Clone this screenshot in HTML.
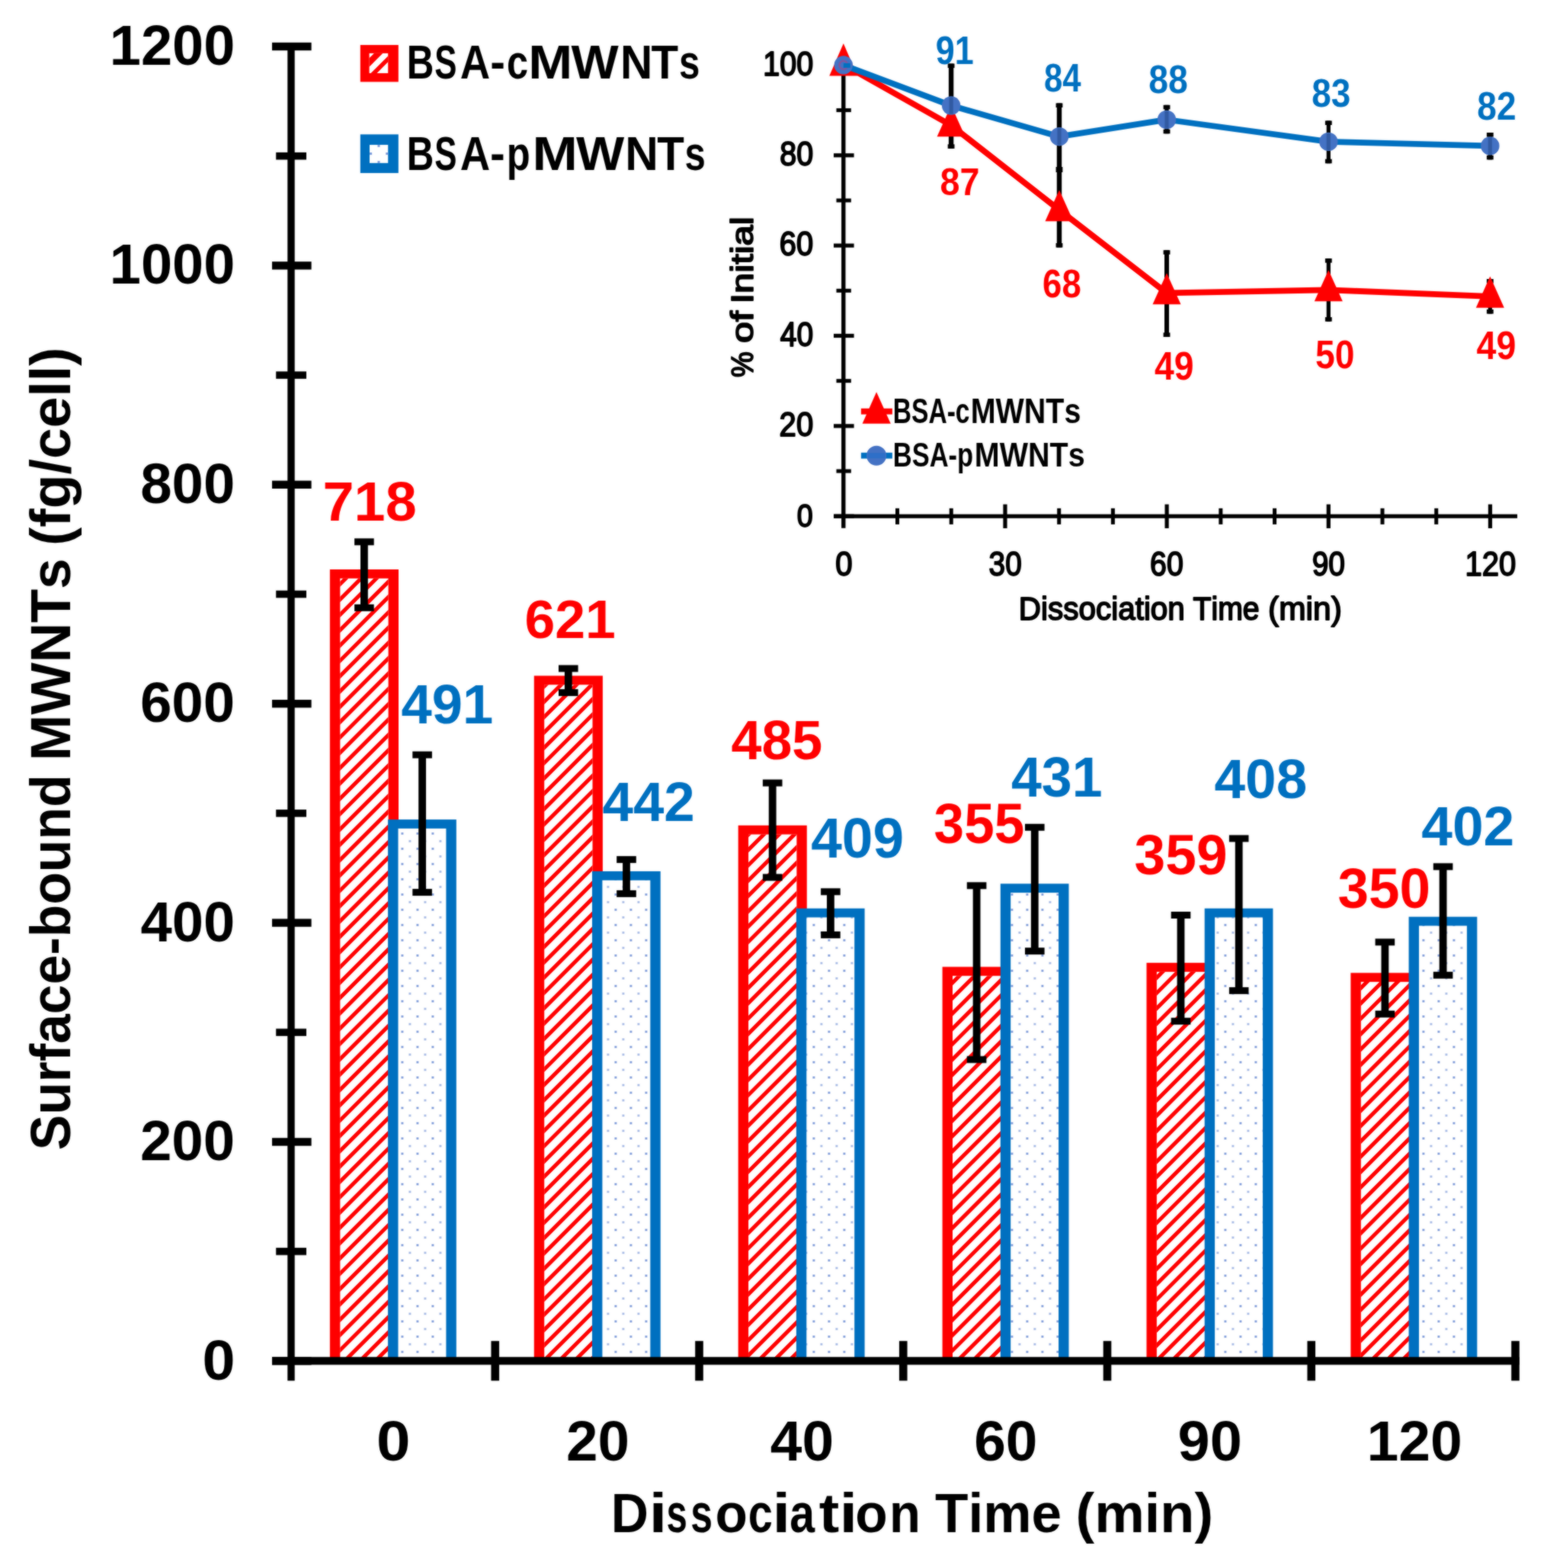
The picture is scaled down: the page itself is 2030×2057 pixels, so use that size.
<!DOCTYPE html>
<html lang="en">
<head>
<meta charset="utf-8">
<title>Surface-bound MWNTs vs Dissociation Time</title>
<style>
html,body{margin:0;padding:0;background:#fff;}
body{width:2030px;height:2057px;overflow:hidden;}
svg{display:block;}
#soft{filter:blur(0.8px);opacity:0.55;}
text{font-family:"Liberation Sans",sans-serif;font-size:100px;font-kerning:none;}
text.b{font-weight:bold;}
text.r{font-weight:normal;stroke-width:4.4px;stroke-linejoin:round;}
</style>
</head>
<body>
<svg width="2030" height="2057" viewBox="0 0 2030 2057">
<defs>
<pattern id="dots" patternUnits="userSpaceOnUse" width="20" height="20" x="525.4" y="1091.0">
<rect width="20" height="20" fill="#fff"/>
<rect x="1.1" y="1.1" width="2.8" height="2.8" fill="#5B7FD0" opacity="0.8"/>
<rect x="11.1" y="11.1" width="2.8" height="2.8" fill="#5B7FD0" opacity="0.55"/>
</pattern>
<clipPath id="c0"><rect x="446.30" y="758.80" width="63.30" height="1022.20"/></clipPath><clipPath id="c1"><rect x="714.20" y="898.30" width="63.30" height="882.70"/></clipPath><clipPath id="c2"><rect x="982.10" y="1094.60" width="63.30" height="686.40"/></clipPath><clipPath id="c3"><rect x="1250.00" y="1280.20" width="63.30" height="500.80"/></clipPath><clipPath id="c4"><rect x="1517.90" y="1274.90" width="63.30" height="506.10"/></clipPath><clipPath id="c5"><rect x="1785.80" y="1288.10" width="63.30" height="492.90"/></clipPath>
</defs>
<g id="chart">
<rect width="2030" height="2057" fill="#fff"/>
<rect x="432.90" y="747.00" width="90.10" height="1034.00" fill="#FF0000" />
<rect x="446.30" y="758.80" width="63.30" height="1022.20" fill="#fff" />
<rect x="700.80" y="886.50" width="90.10" height="894.50" fill="#FF0000" />
<rect x="714.20" y="898.30" width="63.30" height="882.70" fill="#fff" />
<rect x="968.70" y="1082.80" width="90.10" height="698.20" fill="#FF0000" />
<rect x="982.10" y="1094.60" width="63.30" height="686.40" fill="#fff" />
<rect x="1236.60" y="1268.40" width="90.10" height="512.60" fill="#FF0000" />
<rect x="1250.00" y="1280.20" width="63.30" height="500.80" fill="#fff" />
<rect x="1504.50" y="1263.10" width="90.10" height="517.90" fill="#FF0000" />
<rect x="1517.90" y="1274.90" width="63.30" height="506.10" fill="#fff" />
<rect x="1772.40" y="1276.30" width="90.10" height="504.70" fill="#FF0000" />
<rect x="1785.80" y="1288.10" width="63.30" height="492.90" fill="#fff" />
<path clip-path="url(#c0)" d="M440.3,711.9L515.6,636.6M440.3,732.0L515.6,656.7M440.3,752.1L515.6,676.8M440.3,772.2L515.6,696.9M440.3,792.3L515.6,717.0M440.3,812.4L515.6,737.1M440.3,832.5L515.6,757.2M440.3,852.6L515.6,777.3M440.3,872.7L515.6,797.4M440.3,892.8L515.6,817.5M440.3,912.9L515.6,837.6M440.3,933.0L515.6,857.7M440.3,953.1L515.6,877.8M440.3,973.2L515.6,897.9M440.3,993.3L515.6,918.0M440.3,1013.4L515.6,938.1M440.3,1033.5L515.6,958.2M440.3,1053.6L515.6,978.3M440.3,1073.7L515.6,998.4M440.3,1093.8L515.6,1018.5M440.3,1113.9L515.6,1038.6M440.3,1134.0L515.6,1058.7M440.3,1154.1L515.6,1078.8M440.3,1174.2L515.6,1098.9M440.3,1194.3L515.6,1119.0M440.3,1214.4L515.6,1139.1M440.3,1234.5L515.6,1159.2M440.3,1254.6L515.6,1179.3M440.3,1274.7L515.6,1199.4M440.3,1294.8L515.6,1219.5M440.3,1314.9L515.6,1239.6M440.3,1335.0L515.6,1259.7M440.3,1355.1L515.6,1279.8M440.3,1375.2L515.6,1299.9M440.3,1395.3L515.6,1320.0M440.3,1415.4L515.6,1340.1M440.3,1435.5L515.6,1360.2M440.3,1455.6L515.6,1380.3M440.3,1475.7L515.6,1400.4M440.3,1495.8L515.6,1420.5M440.3,1515.9L515.6,1440.6M440.3,1536.0L515.6,1460.7M440.3,1556.1L515.6,1480.8M440.3,1576.2L515.6,1500.9M440.3,1596.3L515.6,1521.0M440.3,1616.4L515.6,1541.1M440.3,1636.5L515.6,1561.2M440.3,1656.6L515.6,1581.3M440.3,1676.7L515.6,1601.4M440.3,1696.8L515.6,1621.5M440.3,1716.9L515.6,1641.6M440.3,1737.0L515.6,1661.7M440.3,1757.1L515.6,1681.8M440.3,1777.2L515.6,1701.9M440.3,1797.3L515.6,1722.0M440.3,1817.4L515.6,1742.1M440.3,1837.5L515.6,1762.2M440.3,1857.6L515.6,1782.3M440.3,1877.7L515.6,1802.4M440.3,1897.8L515.6,1822.5" stroke="#FF0000" stroke-width="5.1" fill="none"/>
<path clip-path="url(#c1)" d="M708.2,866.1L783.5,790.8M708.2,886.2L783.5,810.9M708.2,906.3L783.5,831.0M708.2,926.4L783.5,851.1M708.2,946.5L783.5,871.2M708.2,966.6L783.5,891.3M708.2,986.7L783.5,911.4M708.2,1006.8L783.5,931.5M708.2,1026.9L783.5,951.6M708.2,1047.0L783.5,971.7M708.2,1067.1L783.5,991.8M708.2,1087.2L783.5,1011.9M708.2,1107.3L783.5,1032.0M708.2,1127.4L783.5,1052.1M708.2,1147.5L783.5,1072.2M708.2,1167.6L783.5,1092.3M708.2,1187.7L783.5,1112.4M708.2,1207.8L783.5,1132.5M708.2,1227.9L783.5,1152.6M708.2,1248.0L783.5,1172.7M708.2,1268.1L783.5,1192.8M708.2,1288.2L783.5,1212.9M708.2,1308.3L783.5,1233.0M708.2,1328.4L783.5,1253.1M708.2,1348.5L783.5,1273.2M708.2,1368.6L783.5,1293.3M708.2,1388.7L783.5,1313.4M708.2,1408.8L783.5,1333.5M708.2,1428.9L783.5,1353.6M708.2,1449.0L783.5,1373.7M708.2,1469.1L783.5,1393.8M708.2,1489.2L783.5,1413.9M708.2,1509.3L783.5,1434.0M708.2,1529.4L783.5,1454.1M708.2,1549.5L783.5,1474.2M708.2,1569.6L783.5,1494.3M708.2,1589.7L783.5,1514.4M708.2,1609.8L783.5,1534.5M708.2,1629.9L783.5,1554.6M708.2,1650.0L783.5,1574.7M708.2,1670.1L783.5,1594.8M708.2,1690.2L783.5,1614.9M708.2,1710.3L783.5,1635.0M708.2,1730.4L783.5,1655.1M708.2,1750.5L783.5,1675.2M708.2,1770.6L783.5,1695.3M708.2,1790.7L783.5,1715.4M708.2,1810.8L783.5,1735.5M708.2,1830.9L783.5,1755.6M708.2,1851.0L783.5,1775.7M708.2,1871.1L783.5,1795.8M708.2,1891.2L783.5,1815.9" stroke="#FF0000" stroke-width="5.1" fill="none"/>
<path clip-path="url(#c2)" d="M976.1,1060.5L1051.4,985.2M976.1,1080.6L1051.4,1005.3M976.1,1100.7L1051.4,1025.4M976.1,1120.8L1051.4,1045.5M976.1,1140.9L1051.4,1065.6M976.1,1161.0L1051.4,1085.7M976.1,1181.1L1051.4,1105.8M976.1,1201.2L1051.4,1125.9M976.1,1221.3L1051.4,1146.0M976.1,1241.4L1051.4,1166.1M976.1,1261.5L1051.4,1186.2M976.1,1281.6L1051.4,1206.3M976.1,1301.7L1051.4,1226.4M976.1,1321.8L1051.4,1246.5M976.1,1341.9L1051.4,1266.6M976.1,1362.0L1051.4,1286.7M976.1,1382.1L1051.4,1306.8M976.1,1402.2L1051.4,1326.9M976.1,1422.3L1051.4,1347.0M976.1,1442.4L1051.4,1367.1M976.1,1462.5L1051.4,1387.2M976.1,1482.6L1051.4,1407.3M976.1,1502.7L1051.4,1427.4M976.1,1522.8L1051.4,1447.5M976.1,1542.9L1051.4,1467.6M976.1,1563.0L1051.4,1487.7M976.1,1583.1L1051.4,1507.8M976.1,1603.2L1051.4,1527.9M976.1,1623.3L1051.4,1548.0M976.1,1643.4L1051.4,1568.1M976.1,1663.5L1051.4,1588.2M976.1,1683.6L1051.4,1608.3M976.1,1703.7L1051.4,1628.4M976.1,1723.8L1051.4,1648.5M976.1,1743.9L1051.4,1668.6M976.1,1764.0L1051.4,1688.7M976.1,1784.1L1051.4,1708.8M976.1,1804.2L1051.4,1728.9M976.1,1824.3L1051.4,1749.0M976.1,1844.4L1051.4,1769.1M976.1,1864.5L1051.4,1789.2M976.1,1884.6L1051.4,1809.3M976.1,1904.7L1051.4,1829.4" stroke="#FF0000" stroke-width="5.1" fill="none"/>
<path clip-path="url(#c3)" d="M1244.0,1234.8L1319.3,1159.5M1244.0,1254.9L1319.3,1179.6M1244.0,1275.0L1319.3,1199.7M1244.0,1295.1L1319.3,1219.8M1244.0,1315.2L1319.3,1239.9M1244.0,1335.3L1319.3,1260.0M1244.0,1355.4L1319.3,1280.1M1244.0,1375.5L1319.3,1300.2M1244.0,1395.6L1319.3,1320.3M1244.0,1415.7L1319.3,1340.4M1244.0,1435.8L1319.3,1360.5M1244.0,1455.9L1319.3,1380.6M1244.0,1476.0L1319.3,1400.7M1244.0,1496.1L1319.3,1420.8M1244.0,1516.2L1319.3,1440.9M1244.0,1536.3L1319.3,1461.0M1244.0,1556.4L1319.3,1481.1M1244.0,1576.5L1319.3,1501.2M1244.0,1596.6L1319.3,1521.3M1244.0,1616.7L1319.3,1541.4M1244.0,1636.8L1319.3,1561.5M1244.0,1656.9L1319.3,1581.6M1244.0,1677.0L1319.3,1601.7M1244.0,1697.1L1319.3,1621.8M1244.0,1717.2L1319.3,1641.9M1244.0,1737.3L1319.3,1662.0M1244.0,1757.4L1319.3,1682.1M1244.0,1777.5L1319.3,1702.2M1244.0,1797.6L1319.3,1722.3M1244.0,1817.7L1319.3,1742.4M1244.0,1837.8L1319.3,1762.5M1244.0,1857.9L1319.3,1782.6M1244.0,1878.0L1319.3,1802.7M1244.0,1898.1L1319.3,1822.8" stroke="#FF0000" stroke-width="5.1" fill="none"/>
<path clip-path="url(#c4)" d="M1511.9,1228.2L1587.2,1152.9M1511.9,1248.3L1587.2,1173.0M1511.9,1268.4L1587.2,1193.1M1511.9,1288.5L1587.2,1213.2M1511.9,1308.6L1587.2,1233.3M1511.9,1328.7L1587.2,1253.4M1511.9,1348.8L1587.2,1273.5M1511.9,1368.9L1587.2,1293.6M1511.9,1389.0L1587.2,1313.7M1511.9,1409.1L1587.2,1333.8M1511.9,1429.2L1587.2,1353.9M1511.9,1449.3L1587.2,1374.0M1511.9,1469.4L1587.2,1394.1M1511.9,1489.5L1587.2,1414.2M1511.9,1509.6L1587.2,1434.3M1511.9,1529.7L1587.2,1454.4M1511.9,1549.8L1587.2,1474.5M1511.9,1569.9L1587.2,1494.6M1511.9,1590.0L1587.2,1514.7M1511.9,1610.1L1587.2,1534.8M1511.9,1630.2L1587.2,1554.9M1511.9,1650.3L1587.2,1575.0M1511.9,1670.4L1587.2,1595.1M1511.9,1690.5L1587.2,1615.2M1511.9,1710.6L1587.2,1635.3M1511.9,1730.7L1587.2,1655.4M1511.9,1750.8L1587.2,1675.5M1511.9,1770.9L1587.2,1695.6M1511.9,1791.0L1587.2,1715.7M1511.9,1811.1L1587.2,1735.8M1511.9,1831.2L1587.2,1755.9M1511.9,1851.3L1587.2,1776.0M1511.9,1871.4L1587.2,1796.1M1511.9,1891.5L1587.2,1816.2" stroke="#FF0000" stroke-width="5.1" fill="none"/>
<path clip-path="url(#c5)" d="M1779.8,1241.7L1855.1,1166.4M1779.8,1261.8L1855.1,1186.5M1779.8,1281.9L1855.1,1206.6M1779.8,1302.0L1855.1,1226.7M1779.8,1322.1L1855.1,1246.8M1779.8,1342.2L1855.1,1266.9M1779.8,1362.3L1855.1,1287.0M1779.8,1382.4L1855.1,1307.1M1779.8,1402.5L1855.1,1327.2M1779.8,1422.6L1855.1,1347.3M1779.8,1442.7L1855.1,1367.4M1779.8,1462.8L1855.1,1387.5M1779.8,1482.9L1855.1,1407.6M1779.8,1503.0L1855.1,1427.7M1779.8,1523.1L1855.1,1447.8M1779.8,1543.2L1855.1,1467.9M1779.8,1563.3L1855.1,1488.0M1779.8,1583.4L1855.1,1508.1M1779.8,1603.5L1855.1,1528.2M1779.8,1623.6L1855.1,1548.3M1779.8,1643.7L1855.1,1568.4M1779.8,1663.8L1855.1,1588.5M1779.8,1683.9L1855.1,1608.6M1779.8,1704.0L1855.1,1628.7M1779.8,1724.1L1855.1,1648.8M1779.8,1744.2L1855.1,1668.9M1779.8,1764.3L1855.1,1689.0M1779.8,1784.4L1855.1,1709.1M1779.8,1804.5L1855.1,1729.2M1779.8,1824.6L1855.1,1749.3M1779.8,1844.7L1855.1,1769.4M1779.8,1864.8L1855.1,1789.5M1779.8,1884.9L1855.1,1809.6M1779.8,1905.0L1855.1,1829.7" stroke="#FF0000" stroke-width="5.1" fill="none"/>
<rect x="509.10" y="1075.10" width="89.70" height="705.90" fill="#0070C0" />
<rect x="522.50" y="1086.90" width="62.90" height="694.10" fill="url(#dots)" />
<rect x="777.00" y="1143.00" width="89.70" height="638.00" fill="#0070C0" />
<rect x="790.40" y="1154.80" width="62.90" height="626.20" fill="url(#dots)" />
<rect x="1044.90" y="1191.70" width="89.70" height="589.30" fill="#0070C0" />
<rect x="1058.30" y="1203.50" width="62.90" height="577.50" fill="url(#dots)" />
<rect x="1312.80" y="1159.30" width="89.70" height="621.70" fill="#0070C0" />
<rect x="1326.20" y="1171.10" width="62.90" height="609.90" fill="url(#dots)" />
<rect x="1580.70" y="1191.70" width="89.70" height="589.30" fill="#0070C0" />
<rect x="1594.10" y="1203.50" width="62.90" height="577.50" fill="url(#dots)" />
<rect x="1848.60" y="1202.70" width="89.70" height="578.30" fill="#0070C0" />
<rect x="1862.00" y="1214.50" width="62.90" height="566.50" fill="url(#dots)" />
<rect x="473.00" y="710.80" width="9.80" height="86.50" fill="#000000" />
<rect x="465.10" y="706.30" width="25.60" height="9.00" fill="#000000" />
<rect x="465.10" y="792.80" width="25.60" height="9.00" fill="#000000" />
<rect x="549.20" y="990.20" width="9.80" height="180.40" fill="#000000" />
<rect x="541.30" y="985.70" width="25.60" height="9.00" fill="#000000" />
<rect x="541.30" y="1166.10" width="25.60" height="9.00" fill="#000000" />
<rect x="740.90" y="877.00" width="9.80" height="31.60" fill="#000000" />
<rect x="733.00" y="872.50" width="25.60" height="9.00" fill="#000000" />
<rect x="733.00" y="904.10" width="25.60" height="9.00" fill="#000000" />
<rect x="817.10" y="1127.60" width="9.80" height="44.80" fill="#000000" />
<rect x="809.20" y="1123.10" width="25.60" height="9.00" fill="#000000" />
<rect x="809.20" y="1167.90" width="25.60" height="9.00" fill="#000000" />
<rect x="1008.80" y="1027.10" width="9.80" height="123.90" fill="#000000" />
<rect x="1000.90" y="1022.60" width="25.60" height="9.00" fill="#000000" />
<rect x="1000.90" y="1146.50" width="25.60" height="9.00" fill="#000000" />
<rect x="1085.00" y="1169.80" width="9.80" height="56.60" fill="#000000" />
<rect x="1077.10" y="1165.30" width="25.60" height="9.00" fill="#000000" />
<rect x="1077.10" y="1221.90" width="25.60" height="9.00" fill="#000000" />
<rect x="1276.70" y="1161.80" width="9.80" height="228.20" fill="#000000" />
<rect x="1268.80" y="1157.30" width="25.60" height="9.00" fill="#000000" />
<rect x="1268.80" y="1385.50" width="25.60" height="9.00" fill="#000000" />
<rect x="1352.90" y="1085.30" width="9.80" height="162.40" fill="#000000" />
<rect x="1345.00" y="1080.80" width="25.60" height="9.00" fill="#000000" />
<rect x="1345.00" y="1243.20" width="25.60" height="9.00" fill="#000000" />
<rect x="1544.60" y="1200.50" width="9.80" height="139.20" fill="#000000" />
<rect x="1536.70" y="1196.00" width="25.60" height="9.00" fill="#000000" />
<rect x="1536.70" y="1335.20" width="25.60" height="9.00" fill="#000000" />
<rect x="1620.80" y="1100.00" width="9.80" height="199.60" fill="#000000" />
<rect x="1612.90" y="1095.50" width="25.60" height="9.00" fill="#000000" />
<rect x="1612.90" y="1295.10" width="25.60" height="9.00" fill="#000000" />
<rect x="1812.50" y="1235.90" width="9.80" height="94.40" fill="#000000" />
<rect x="1804.60" y="1231.40" width="25.60" height="9.00" fill="#000000" />
<rect x="1804.60" y="1325.80" width="25.60" height="9.00" fill="#000000" />
<rect x="1888.70" y="1136.90" width="9.80" height="142.40" fill="#000000" />
<rect x="1880.80" y="1132.40" width="25.60" height="9.00" fill="#000000" />
<rect x="1880.80" y="1274.80" width="25.60" height="9.00" fill="#000000" />
<rect x="377.30" y="56.00" width="9.40" height="1755.30" fill="#000000" />
<rect x="357.00" y="1780.20" width="51.60" height="10.40" fill="#000000" />
<rect x="362.20" y="1636.90" width="39.80" height="9.60" fill="#000000" />
<rect x="357.00" y="1492.80" width="51.60" height="10.40" fill="#000000" />
<rect x="362.20" y="1349.50" width="39.80" height="9.60" fill="#000000" />
<rect x="357.00" y="1205.40" width="51.60" height="10.40" fill="#000000" />
<rect x="362.20" y="1062.10" width="39.80" height="9.60" fill="#000000" />
<rect x="357.00" y="918.00" width="51.60" height="10.40" fill="#000000" />
<rect x="362.20" y="774.70" width="39.80" height="9.60" fill="#000000" />
<rect x="357.00" y="630.60" width="51.60" height="10.40" fill="#000000" />
<rect x="362.20" y="487.30" width="39.80" height="9.60" fill="#000000" />
<rect x="357.00" y="343.20" width="51.60" height="10.40" fill="#000000" />
<rect x="362.20" y="199.90" width="39.80" height="9.60" fill="#000000" />
<rect x="357.00" y="55.80" width="51.60" height="10.40" fill="#000000" />
<rect x="357.00" y="1780.20" width="1636.80" height="10.20" fill="#000000" />
<rect x="644.45" y="1759.20" width="10.60" height="52.10" fill="#000000" />
<rect x="912.20" y="1759.20" width="10.60" height="52.10" fill="#000000" />
<rect x="1179.95" y="1759.20" width="10.60" height="52.10" fill="#000000" />
<rect x="1447.70" y="1759.20" width="10.60" height="52.10" fill="#000000" />
<rect x="1715.45" y="1759.20" width="10.60" height="52.10" fill="#000000" />
<rect x="1983.20" y="1759.20" width="10.60" height="52.10" fill="#000000" />
<text class="b" fill="#000000" transform="translate(143.79,84.96) scale(0.7396,0.7408)">1200</text>
<text class="b" fill="#000000" transform="translate(143.79,372.36) scale(0.7396,0.7408)">1000</text>
<text class="b" fill="#000000" transform="translate(184.27,659.76) scale(0.7431,0.7408)">800</text>
<text class="b" fill="#000000" transform="translate(183.89,947.16) scale(0.7455,0.7408)">600</text>
<text class="b" fill="#000000" transform="translate(184.49,1234.56) scale(0.7418,0.7408)">400</text>
<text class="b" fill="#000000" transform="translate(183.89,1521.96) scale(0.7455,0.7408)">200</text>
<text class="b" fill="#000000" transform="translate(265.50,1810.26) scale(0.7747,0.7408)">0</text>
<text class="b" fill="#000000" transform="translate(494.10,1915.85) scale(0.8000,0.7465)">0</text>
<text class="b" fill="#000000" transform="translate(742.99,1915.85) scale(0.7459,0.7465)">20</text>
<text class="b" fill="#000000" transform="translate(1010.78,1915.85) scale(0.7488,0.7465)">40</text>
<text class="b" fill="#000000" transform="translate(1278.28,1915.85) scale(0.7478,0.7465)">60</text>
<text class="b" fill="#000000" transform="translate(1545.55,1915.85) scale(0.7575,0.7465)">90</text>
<text class="b" fill="#000000" transform="translate(1793.42,1915.85) scale(0.7508,0.7465)">120</text>
<text class="b" fill="#000000" aria-label="Dissociation Time (min)" transform="translate(0,2009.80) scale(1,0.7319)"><tspan x="801.77" textLength="49.20" lengthAdjust="spacingAndGlyphs">D</tspan><tspan x="851.69" textLength="23.47" lengthAdjust="spacingAndGlyphs">i</tspan><tspan x="874.48" textLength="27.35" lengthAdjust="spacingAndGlyphs">s</tspan><tspan x="906.29" textLength="28.74" lengthAdjust="spacingAndGlyphs">s</tspan><tspan x="938.42" textLength="42.41" lengthAdjust="spacingAndGlyphs">o</tspan><tspan x="981.79" textLength="32.11" lengthAdjust="spacingAndGlyphs">c</tspan><tspan x="1013.44" textLength="23.67" lengthAdjust="spacingAndGlyphs">i</tspan><tspan x="1036.33" textLength="32.85" lengthAdjust="spacingAndGlyphs">a</tspan><tspan x="1074.70" textLength="26.54" lengthAdjust="spacingAndGlyphs">t</tspan><tspan x="1101.54" textLength="23.67" lengthAdjust="spacingAndGlyphs">i</tspan><tspan x="1122.32" textLength="42.41" lengthAdjust="spacingAndGlyphs">o</tspan><tspan x="1166.94" textLength="40.93" lengthAdjust="spacingAndGlyphs">n</tspan> <tspan x="1226.89" textLength="166.23" lengthAdjust="spacingAndGlyphs">Time</tspan> <tspan x="1411.61" textLength="180.40" lengthAdjust="spacingAndGlyphs">(min)</tspan></text>
<text class="b" fill="#000000" aria-label="Surface-bound MWNTs (fg/cell)" transform="translate(92.30,0) rotate(-90) scale(1,0.7377)"><tspan x="-1508.89" textLength="492.68" lengthAdjust="spacingAndGlyphs">Surface-bound</tspan> <tspan x="-997.91" textLength="265.37" lengthAdjust="spacingAndGlyphs">MWNTs</tspan> <tspan x="-716.06" textLength="260.58" lengthAdjust="spacingAndGlyphs">(fg/cell)</tspan></text>
<rect x="472.80" y="59.00" width="50.00" height="48.40" fill="#FF0000" />
<clipPath id="cl"><rect x="484.6" y="69.9" width="24.6" height="26.1"/></clipPath>
<rect x="484.6" y="69.9" width="24.6" height="26.1" fill="#fff"/>
<path clip-path="url(#cl)" d="M484.6,102.0L516.6,70.0" stroke="#FF0000" stroke-width="5.6" fill="none"/><path clip-path="url(#cl)" d="M476.5,90.0L506.5,60.0" stroke="#FF0000" stroke-width="8.0" fill="none"/>
<rect x="472.80" y="176.30" width="50.00" height="50.70" fill="#0070C0" />
<rect x="485.00" y="190.00" width="24.20" height="23.90" fill="#fff" />
<rect x="485.10" y="200.10" width="3.00" height="3.00" fill="#7C9BDC" />
<rect x="506.30" y="200.10" width="3.00" height="3.00" fill="#7C9BDC" />
<rect x="495.50" y="189.90" width="3.00" height="3.00" fill="#7C9BDC" />
<rect x="495.50" y="211.10" width="3.00" height="3.00" fill="#7C9BDC" />
<text class="b" fill="#000000" aria-label="BSA-cMWNTs" transform="translate(0,103.20) scale(1,0.6333)"><tspan x="533.69" textLength="35.64" lengthAdjust="spacingAndGlyphs">B</tspan><tspan x="570.18" textLength="29.24" lengthAdjust="spacingAndGlyphs">S</tspan><tspan x="603.83" textLength="39.45" lengthAdjust="spacingAndGlyphs">A</tspan><tspan x="643.13" textLength="19.72" lengthAdjust="spacingAndGlyphs">-</tspan><tspan x="664.88" textLength="28.10" lengthAdjust="spacingAndGlyphs">c</tspan><tspan x="693.18" textLength="57.96" lengthAdjust="spacingAndGlyphs">M</tspan><tspan x="749.40" textLength="62.26" lengthAdjust="spacingAndGlyphs">W</tspan><tspan x="813.90" textLength="42.23" lengthAdjust="spacingAndGlyphs">N</tspan><tspan x="854.62" textLength="35.62" lengthAdjust="spacingAndGlyphs">T</tspan><tspan x="890.88" textLength="27.35" lengthAdjust="spacingAndGlyphs">s</tspan></text>
<text class="b" fill="#000000" aria-label="BSA-pMWNTs" transform="translate(0,222.50) scale(1,0.6348)"><tspan x="533.69" textLength="35.64" lengthAdjust="spacingAndGlyphs">B</tspan><tspan x="570.18" textLength="29.24" lengthAdjust="spacingAndGlyphs">S</tspan><tspan x="603.83" textLength="39.45" lengthAdjust="spacingAndGlyphs">A</tspan><tspan x="643.13" textLength="19.72" lengthAdjust="spacingAndGlyphs">-</tspan><tspan x="664.70" textLength="30.97" lengthAdjust="spacingAndGlyphs">p</tspan><tspan x="698.57" textLength="59.38" lengthAdjust="spacingAndGlyphs">M</tspan><tspan x="756.10" textLength="63.26" lengthAdjust="spacingAndGlyphs">W</tspan><tspan x="820.38" textLength="43.58" lengthAdjust="spacingAndGlyphs">N</tspan><tspan x="862.32" textLength="35.62" lengthAdjust="spacingAndGlyphs">T</tspan><tspan x="898.58" textLength="27.35" lengthAdjust="spacingAndGlyphs">s</tspan></text>
<text class="b" fill="#FF0000" transform="translate(423.58,682.98) scale(0.7379,0.7225)">718</text>
<text class="b" fill="#FF0000" transform="translate(688.39,837.19) scale(0.7159,0.7085)">621</text>
<text class="b" fill="#FF0000" transform="translate(959.42,996.48) scale(0.7188,0.7155)">485</text>
<text class="b" fill="#FF0000" transform="translate(1225.62,1105.66) scale(0.7108,0.7408)">355</text>
<text class="b" fill="#FF0000" transform="translate(1488.57,1146.87) scale(0.7315,0.7324)">359</text>
<text class="b" fill="#FF0000" transform="translate(1755.48,1190.86) scale(0.7290,0.7352)">350</text>
<text class="b" fill="#0070C0" transform="translate(526.51,948.88) scale(0.7243,0.7183)">491</text>
<text class="b" fill="#0070C0" transform="translate(790.51,1076.80) scale(0.7269,0.7314)">442</text>
<text class="b" fill="#0070C0" transform="translate(1064.20,1124.96) scale(0.7307,0.7394)">409</text>
<text class="b" fill="#0070C0" transform="translate(1326.92,1045.27) scale(0.7169,0.7324)">431</text>
<text class="b" fill="#0070C0" transform="translate(1593.51,1046.77) scale(0.7298,0.7310)">408</text>
<text class="b" fill="#0070C0" transform="translate(1865.30,1109.08) scale(0.7307,0.7211)">402</text>
<rect x="1244.90" y="83.50" width="6.40" height="111.40" fill="#000000" />
<rect x="1243.70" y="83.50" width="8.80" height="5.60" fill="#000000" />
<rect x="1243.70" y="189.30" width="8.80" height="5.60" fill="#000000" />
<rect x="1386.80" y="135.40" width="6.40" height="189.20" fill="#000000" />
<rect x="1385.60" y="135.40" width="8.80" height="5.60" fill="#000000" />
<rect x="1385.60" y="319.00" width="8.80" height="5.60" fill="#000000" />
<rect x="1385.60" y="219.00" width="8.80" height="7.00" fill="#000000" />
<rect x="1528.40" y="137.80" width="5.20" height="37.50" fill="#000000" />
<rect x="1526.60" y="137.80" width="8.80" height="5.60" fill="#000000" />
<rect x="1526.60" y="169.70" width="8.80" height="5.60" fill="#000000" />
<rect x="1528.00" y="328.20" width="6.00" height="113.80" fill="#000000" />
<rect x="1526.60" y="328.20" width="8.80" height="5.60" fill="#000000" />
<rect x="1526.60" y="436.40" width="8.80" height="5.60" fill="#000000" />
<rect x="1740.70" y="158.40" width="5.20" height="55.90" fill="#000000" />
<rect x="1738.90" y="158.40" width="8.80" height="5.60" fill="#000000" />
<rect x="1738.90" y="208.70" width="8.80" height="5.60" fill="#000000" />
<rect x="1740.70" y="339.10" width="5.20" height="82.60" fill="#000000" />
<rect x="1738.90" y="339.10" width="8.80" height="5.60" fill="#000000" />
<rect x="1738.90" y="416.10" width="8.80" height="5.60" fill="#000000" />
<rect x="1952.70" y="174.00" width="5.20" height="35.40" fill="#000000" />
<rect x="1950.90" y="174.00" width="8.80" height="5.60" fill="#000000" />
<rect x="1950.90" y="203.80" width="8.80" height="5.60" fill="#000000" />
<rect x="1952.70" y="366.00" width="5.20" height="45.60" fill="#000000" />
<rect x="1950.90" y="366.00" width="8.80" height="5.60" fill="#000000" />
<rect x="1950.90" y="406.00" width="8.80" height="5.60" fill="#000000" />
<rect x="1104.10" y="85.00" width="5.40" height="607.80" fill="#000000" />
<rect x="1094.30" y="674.60" width="896.70" height="5.20" fill="#000000" />
<rect x="1094.00" y="674.60" width="26.60" height="5.20" fill="#000000" />
<rect x="1097.50" y="615.52" width="19.30" height="5.00" fill="#000000" />
<rect x="1094.00" y="556.24" width="26.60" height="5.20" fill="#000000" />
<rect x="1097.50" y="497.16" width="19.30" height="5.00" fill="#000000" />
<rect x="1094.00" y="437.88" width="26.60" height="5.20" fill="#000000" />
<rect x="1097.50" y="378.80" width="19.30" height="5.00" fill="#000000" />
<rect x="1094.00" y="319.52" width="26.60" height="5.20" fill="#000000" />
<rect x="1097.50" y="260.44" width="19.30" height="5.00" fill="#000000" />
<rect x="1094.00" y="201.16" width="26.60" height="5.20" fill="#000000" />
<rect x="1097.50" y="142.08" width="19.30" height="5.00" fill="#000000" />
<rect x="1175.02" y="666.80" width="5.00" height="21.10" fill="#000000" />
<rect x="1245.74" y="666.80" width="5.00" height="21.10" fill="#000000" />
<rect x="1316.36" y="661.60" width="5.20" height="31.40" fill="#000000" />
<rect x="1387.18" y="666.80" width="5.00" height="21.10" fill="#000000" />
<rect x="1457.90" y="666.80" width="5.00" height="21.10" fill="#000000" />
<rect x="1528.52" y="661.60" width="5.20" height="31.40" fill="#000000" />
<rect x="1599.34" y="666.80" width="5.00" height="21.10" fill="#000000" />
<rect x="1670.06" y="666.80" width="5.00" height="21.10" fill="#000000" />
<rect x="1740.68" y="661.60" width="5.20" height="31.40" fill="#000000" />
<rect x="1811.50" y="666.80" width="5.00" height="21.10" fill="#000000" />
<rect x="1882.22" y="666.80" width="5.00" height="21.10" fill="#000000" />
<rect x="1952.84" y="661.60" width="5.20" height="31.40" fill="#000000" />
<polyline fill="none" stroke="#FF0000" stroke-width="7.8" stroke-linejoin="round" points="1106.8,84.6 1248.1,164.4 1390.0,275.4 1531.0,384.4 1743.3,380.4 1955.3,388.8"/>
<polygon points="1106.80,57.00 1125.30,99.50 1088.30,99.50" fill="#FF0000"/>
<polygon points="1248.10,138.20 1266.60,179.30 1229.60,179.30" fill="#FF0000"/>
<polygon points="1390.00,249.20 1408.50,290.30 1371.50,290.30" fill="#FF0000"/>
<polygon points="1531.00,358.20 1549.50,399.30 1512.50,399.30" fill="#FF0000"/>
<polygon points="1743.30,354.20 1761.80,395.30 1724.80,395.30" fill="#FF0000"/>
<polygon points="1955.30,362.60 1973.80,403.70 1936.80,403.70" fill="#FF0000"/>
<polyline fill="none" stroke="#0070C0" stroke-width="7.8" stroke-linejoin="round" points="1106.8,85.4 1248.1,138.5 1390.0,179.2 1531.0,157.0 1743.3,185.9 1955.3,191.4"/>
<circle cx="1106.80" cy="85.40" r="12.2" fill="#4472C4"/>
<circle cx="1106.80" cy="85.40" r="5.5" fill="none" stroke="#B04080" stroke-width="2.2" opacity="0.6"/>
<rect x="1106.80" y="82.90" width="9" height="6" fill="#0070C0"/>
<circle cx="1248.10" cy="138.50" r="12.2" fill="#4472C4"/>
<rect x="1245.50" y="127.50" width="5.2" height="22" fill="#1B3F7A" opacity="0.45"/>
<circle cx="1390.00" cy="179.20" r="12.2" fill="#4472C4"/>
<rect x="1387.40" y="168.20" width="5.2" height="22" fill="#1B3F7A" opacity="0.45"/>
<circle cx="1531.00" cy="157.00" r="12.2" fill="#4472C4"/>
<rect x="1528.40" y="146.00" width="5.2" height="22" fill="#1B3F7A" opacity="0.45"/>
<circle cx="1743.30" cy="185.90" r="12.2" fill="#4472C4"/>
<rect x="1740.70" y="174.90" width="5.2" height="22" fill="#1B3F7A" opacity="0.45"/>
<circle cx="1955.30" cy="191.40" r="12.2" fill="#4472C4"/>
<rect x="1952.70" y="180.40" width="5.2" height="22" fill="#1B3F7A" opacity="0.45"/>
<text class="r" fill="#000000" stroke="#000000" transform="translate(1001.22,98.70) scale(0.3956,0.4347)">100</text>
<text class="r" fill="#000000" stroke="#000000" transform="translate(1023.21,217.06) scale(0.3953,0.4347)">80</text>
<text class="r" fill="#000000" stroke="#000000" transform="translate(1022.80,335.42) scale(0.3991,0.4347)">60</text>
<text class="r" fill="#000000" stroke="#000000" transform="translate(1023.80,453.78) scale(0.3900,0.4347)">40</text>
<text class="r" fill="#000000" stroke="#000000" transform="translate(1022.60,572.14) scale(0.4009,0.4347)">20</text>
<text class="r" fill="#000000" stroke="#000000" transform="translate(1045.83,690.93) scale(0.3771,0.4240)">0</text>
<text class="r" fill="#000000" stroke="#000000" transform="translate(1096.20,754.68) scale(0.4019,0.4400)">0</text>
<text class="r" fill="#000000" stroke="#000000" transform="translate(1297.62,754.68) scale(0.3870,0.4400)">30</text>
<text class="r" fill="#000000" stroke="#000000" transform="translate(1509.02,754.68) scale(0.3934,0.4400)">60</text>
<text class="r" fill="#000000" stroke="#000000" transform="translate(1721.63,754.68) scale(0.3888,0.4400)">90</text>
<text class="r" fill="#000000" stroke="#000000" transform="translate(1922.40,754.68) scale(0.4006,0.4400)">120</text>
<text class="r" fill="#000000" stroke="#000000" aria-label="Dissociation Time (min)" transform="translate(0,813.26) scale(1,0.4251)"><tspan x="1336.87" textLength="217.99" lengthAdjust="spacingAndGlyphs">Dissociation</tspan> <tspan x="1565.50" textLength="87.17" lengthAdjust="spacingAndGlyphs">Time</tspan> <tspan x="1664.10" textLength="96.70" lengthAdjust="spacingAndGlyphs">(min)</tspan></text>
<text class="r" fill="#000000" stroke="#000000" aria-label="% of Initial" transform="translate(987.51,0) rotate(-90) scale(1,0.4033)"><tspan x="-494.97" textLength="33.71" lengthAdjust="spacingAndGlyphs">%</tspan> <tspan x="-450.11" textLength="42.05" lengthAdjust="spacingAndGlyphs">of</tspan> <tspan x="-398.52" textLength="114.20" lengthAdjust="spacingAndGlyphs">Initial</tspan></text>
<rect x="1129.90" y="535.80" width="41.00" height="7.80" fill="#FF0000" />
<polygon points="1150.1,514.2 1168.8,555.8 1131.6,555.8" fill="#FF0000"/>
<rect x="1129.90" y="593.80" width="41.00" height="7.80" fill="#0070C0" />
<circle cx="1150.1" cy="597.7" r="13.0" fill="#4472C4"/>
<rect x="1138.50" y="594.20" width="23.20" height="7.00" fill="#2E6FC8" />
<text class="b" fill="#000000" aria-label="BSA-cMWNTs" transform="translate(0,554.90) scale(1,0.4536)"><tspan x="1171.82" textLength="100.71" lengthAdjust="spacingAndGlyphs">BSA-c</tspan><tspan x="1273.63" textLength="144.79" lengthAdjust="spacingAndGlyphs">MWNTs</tspan></text>
<text class="b" fill="#000000" aria-label="BSA-pMWNTs" transform="translate(0,611.80) scale(1,0.4435)"><tspan x="1171.76" textLength="105.43" lengthAdjust="spacingAndGlyphs">BSA-p</tspan><tspan x="1278.73" textLength="144.89" lengthAdjust="spacingAndGlyphs">MWNTs</tspan></text>
<text class="b" fill="#0070C0" transform="translate(1227.73,83.88) scale(0.4495,0.5183)">91</text>
<text class="b" fill="#0070C0" transform="translate(1369.99,119.59) scale(0.4363,0.5099)">84</text>
<text class="b" fill="#0070C0" transform="translate(1507.31,121.58) scale(0.4638,0.5225)">88</text>
<text class="b" fill="#0070C0" transform="translate(1721.22,140.48) scale(0.4584,0.5239)">83</text>
<text class="b" fill="#0070C0" transform="translate(1938.32,156.78) scale(0.4606,0.5225)">82</text>
<text class="b" fill="#FF0000" transform="translate(1233.50,256.00) scale(0.4663,0.5000)">87</text>
<text class="b" fill="#FF0000" transform="translate(1368.11,390.18) scale(0.4545,0.5169)">68</text>
<text class="b" fill="#FF0000" transform="translate(1514.91,498.18) scale(0.4632,0.5183)">49</text>
<text class="b" fill="#FF0000" transform="translate(1726.01,483.48) scale(0.4625,0.5239)">50</text>
<text class="b" fill="#FF0000" transform="translate(1937.50,471.49) scale(0.4660,0.5099)">49</text>
</g>
<use id="soft" href="#chart"/>
</svg>
</body>
</html>
